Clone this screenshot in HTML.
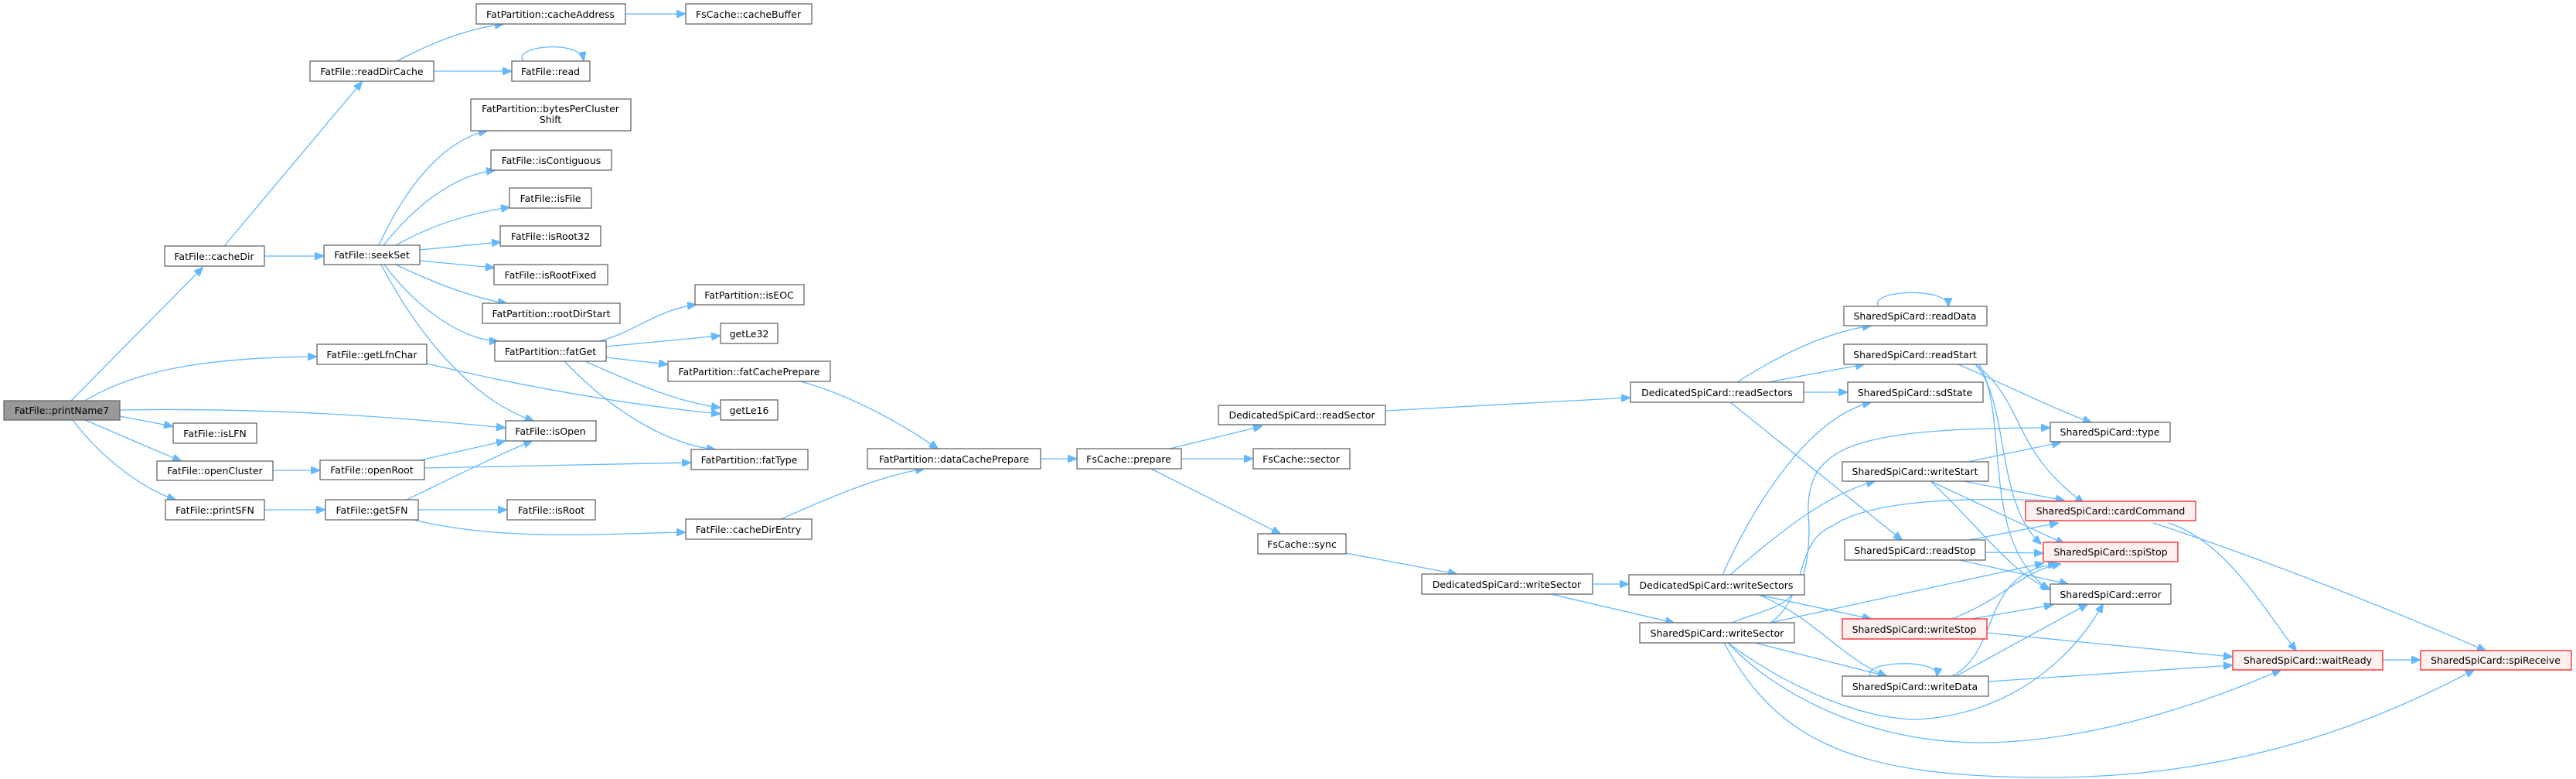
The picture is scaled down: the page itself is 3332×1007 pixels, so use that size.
<!DOCTYPE html>
<html><head><meta charset="utf-8"><style>
html,body{margin:0;padding:0;background:#fff;}
svg{display:block;}
text{font-family:"DejaVu Sans","Liberation Sans",sans-serif;font-size:12.5px;fill:#000;text-anchor:middle;}
.n{fill:#fff;stroke:#666;stroke-width:1.3;}
.r{fill:#fff0f0;stroke:#ff2020;stroke-width:1.3;}
.g{fill:#999;stroke:#666;stroke-width:1.3;}
path.e{fill:none;stroke:#63b8ff;stroke-width:1.3;marker-end:url(#a);}
</style></head><body>
<svg width="3332" height="1007" viewBox="0 0 3332 1007" xmlns="http://www.w3.org/2000/svg">
<defs><marker id="a" markerUnits="userSpaceOnUse" markerWidth="12" markerHeight="10" refX="11" refY="5" orient="auto"><path d="M0,0 L12,5 L0,10 Z" fill="#63b8ff" stroke="#63b8ff"/></marker></defs>
<g>
<path class="e" d="M92,518 L262,346"/>
<path class="e" d="M110,518 C180,475 280,462 409,461"/>
<path class="e" d="M155,530 C350,527 500,538 653,553"/>
<path class="e" d="M155,538 L223,551"/>
<path class="e" d="M110,543 L234,596"/>
<path class="e" d="M94,543 C130,590 180,630 227,646"/>
<path class="e" d="M290,318 L468,106"/>
<path class="e" d="M342,331 L418,331"/>
<path class="e" d="M513,79 C560,55 600,38 651,31"/>
<path class="e" d="M561,92 L661,92"/>
<path class="e" d="M677,79 C660,60 750,50 755,78"/>
<path class="e" d="M809,18 L886,18"/>
<path class="e" d="M490,317 C530,230 580,180 630,169"/>
<path class="e" d="M496,317 C550,250 600,225 640,220"/>
<path class="e" d="M512,317 C560,290 610,275 659,268"/>
<path class="e" d="M543,323 L647,313"/>
<path class="e" d="M543,337 L639,346"/>
<path class="e" d="M512,342 C560,365 610,385 655,392"/>
<path class="e" d="M497,342 C540,400 600,440 644,441"/>
<path class="e" d="M493,342 C550,450 620,520 690,544"/>
<path class="e" d="M775,441 C820,430 850,400 900,394"/>
<path class="e" d="M784,448 L931,434"/>
<path class="e" d="M784,462 L863,471"/>
<path class="e" d="M757,467 C830,500 880,520 931,527"/>
<path class="e" d="M730,467 C800,540 870,575 925,581"/>
<path class="e" d="M552,470 C700,505 830,525 931,535"/>
<path class="e" d="M1035,493 C1100,510 1170,550 1213,580"/>
<path class="e" d="M353,608 L413,608"/>
<path class="e" d="M543,595 L653,570"/>
<path class="e" d="M549,605 L893,598"/>
<path class="e" d="M342,659 L420,659"/>
<path class="e" d="M526,646 C580,620 640,590 688,570"/>
<path class="e" d="M541,659 L655,659"/>
<path class="e" d="M535,672 C650,700 780,690 886,688"/>
<path class="e" d="M1010,671 C1080,640 1140,615 1195,606"/>
<path class="e" d="M1346,593 L1392,593"/>
<path class="e" d="M1513,580 L1632,551"/>
<path class="e" d="M1528,593 L1620,593"/>
<path class="e" d="M1489,606 L1656,690"/>
<path class="e" d="M1792,531 L2108,514"/>
<path class="e" d="M1741,715 L1884,742"/>
<path class="e" d="M2060,755 L2106,755"/>
<path class="e" d="M2006,768 L2165,805"/>
<path class="e" d="M2247,494 C2300,460 2360,430 2420,421"/>
<path class="e" d="M2287,494 L2411,471"/>
<path class="e" d="M2333,507 L2389,507"/>
<path class="e" d="M2238,520 L2460,698"/>
<path class="e" d="M2430,396 C2415,375 2520,370 2520,396"/>
<path class="e" d="M2533,471 C2600,500 2660,530 2705,546"/>
<path class="e" d="M2555,471 C2620,520 2600,580 2695,650"/>
<path class="e" d="M2555,471 C2600,520 2580,650 2640,703"/>
<path class="e" d="M2560,471 C2600,540 2560,700 2650,762"/>
<path class="e" d="M2545,597 L2665,572"/>
<path class="e" d="M2540,622 L2670,647"/>
<path class="e" d="M2497,622 L2670,703"/>
<path class="e" d="M2497,622 C2560,680 2600,740 2652,762"/>
<path class="e" d="M2547,698 L2662,676"/>
<path class="e" d="M2568,714 L2642,715"/>
<path class="e" d="M2535,724 L2675,755"/>
<path class="e" d="M2228,743 C2270,650 2340,540 2420,520"/>
<path class="e" d="M2238,743 C2300,690 2360,640 2425,622"/>
<path class="e" d="M2275,769 L2420,800"/>
<path class="e" d="M2275,769 C2350,800 2380,850 2440,874"/>
<path class="e" d="M2240,805 C2300,780 2340,790 2340,680 C2330,580 2380,553 2651,553"/>
<path class="e" d="M2290,805 C2340,770 2320,700 2370,680 C2420,645 2550,642 2670,648"/>
<path class="e" d="M2290,805 L2643,728"/>
<path class="e" d="M2270,831 L2440,874"/>
<path class="e" d="M2235,831 C2300,880 2400,930 2480,930 C2580,925 2670,870 2720,781"/>
<path class="e" d="M2235,831 C2300,900 2420,960 2560,960 C2700,960 2850,910 2950,866"/>
<path class="e" d="M2230,831 C2300,960 2400,1005 2650,1005 C2900,1005 3080,930 3200,866"/>
<path class="e" d="M2525,800 C2600,770 2610,740 2665,729"/>
<path class="e" d="M2550,800 L2655,782"/>
<path class="e" d="M2570,818 L2887,849"/>
<path class="e" d="M2420,874 C2405,855 2510,850 2505,874"/>
<path class="e" d="M2525,874 C2590,840 2560,740 2660,729"/>
<path class="e" d="M2530,874 L2700,781"/>
<path class="e" d="M2572,881 L2887,860"/>
<path class="e" d="M2805,676 C2880,700 2930,790 2970,841"/>
<path class="e" d="M2785,676 C2950,730 3120,800 3215,841"/>
<path class="e" d="M3082,853 L3130,853"/>
</g>
<g>
<rect class="g" x="5" y="518" width="150" height="25"/><text x="80" y="535">FatFile::printName7</text>
<rect class="n" x="616" y="5" width="193" height="26"/><text x="712" y="23">FatPartition::cacheAddress</text>
<rect class="n" x="887" y="5" width="163" height="26"/><text x="968" y="23">FsCache::cacheBuffer</text>
<rect class="n" x="401" y="79" width="160" height="26"/><text x="481" y="97">FatFile::readDirCache</text>
<rect class="n" x="662" y="79" width="101" height="26"/><text x="712" y="97">FatFile::read</text>
<rect class="n" x="609" y="128" width="207" height="41"/><text x="712" y="145">FatPartition::bytesPerCluster</text><text x="712" y="159">Shift</text>
<rect class="n" x="635" y="194" width="156" height="26"/><text x="713" y="212">FatFile::isContiguous</text>
<rect class="n" x="659" y="243" width="106" height="26"/><text x="712" y="261">FatFile::isFile</text>
<rect class="n" x="647" y="292" width="130" height="26"/><text x="712" y="310">FatFile::isRoot32</text>
<rect class="n" x="639" y="342" width="147" height="26"/><text x="712" y="360">FatFile::isRootFixed</text>
<rect class="n" x="624" y="392" width="178" height="26"/><text x="713" y="410">FatPartition::rootDirStart</text>
<rect class="n" x="213" y="318" width="129" height="26"/><text x="277" y="336">FatFile::cacheDir</text>
<rect class="n" x="419" y="317" width="124" height="25"/><text x="481" y="334">FatFile::seekSet</text>
<rect class="n" x="899" y="368" width="141" height="26"/><text x="969" y="386">FatPartition::isEOC</text>
<rect class="n" x="932" y="418" width="74" height="26"/><text x="969" y="436">getLe32</text>
<rect class="n" x="640" y="441" width="144" height="26"/><text x="712" y="459">FatPartition::fatGet</text>
<rect class="n" x="864" y="467" width="210" height="26"/><text x="969" y="485">FatPartition::fatCachePrepare</text>
<rect class="n" x="410" y="445" width="142" height="26"/><text x="481" y="463">FatFile::getLfnChar</text>
<rect class="n" x="932" y="517" width="74" height="26"/><text x="969" y="535">getLe16</text>
<rect class="n" x="654" y="544" width="117" height="26"/><text x="712" y="562">FatFile::isOpen</text>
<rect class="n" x="224" y="547" width="108" height="26"/><text x="278" y="565">FatFile::isLFN</text>
<rect class="n" x="894" y="581" width="151" height="26"/><text x="969" y="599">FatPartition::fatType</text>
<rect class="n" x="203" y="596" width="150" height="25"/><text x="278" y="613">FatFile::openCluster</text>
<rect class="n" x="414" y="595" width="135" height="25"/><text x="481" y="612">FatFile::openRoot</text>
<rect class="n" x="214" y="646" width="128" height="26"/><text x="278" y="664">FatFile::printSFN</text>
<rect class="n" x="421" y="646" width="120" height="26"/><text x="481" y="664">FatFile::getSFN</text>
<rect class="n" x="656" y="646" width="114" height="26"/><text x="713" y="664">FatFile::isRoot</text>
<rect class="n" x="887" y="671" width="163" height="26"/><text x="968" y="689">FatFile::cacheDirEntry</text>
<rect class="n" x="1122" y="580" width="224" height="26"/><text x="1234" y="598">FatPartition::dataCachePrepare</text>
<rect class="n" x="1393" y="580" width="135" height="26"/><text x="1460" y="598">FsCache::prepare</text>
<rect class="n" x="1576" y="524" width="216" height="25"/><text x="1684" y="541">DedicatedSpiCard::readSector</text>
<rect class="n" x="1621" y="580" width="125" height="26"/><text x="1683" y="598">FsCache::sector</text>
<rect class="n" x="1627" y="690" width="114" height="26"/><text x="1684" y="708">FsCache::sync</text>
<rect class="n" x="1839" y="742" width="221" height="26"/><text x="1949" y="760">DedicatedSpiCard::writeSector</text>
<rect class="n" x="2109" y="494" width="224" height="26"/><text x="2221" y="512">DedicatedSpiCard::readSectors</text>
<rect class="n" x="2107" y="743" width="227" height="26"/><text x="2220" y="761">DedicatedSpiCard::writeSectors</text>
<rect class="n" x="2121" y="805" width="200" height="26"/><text x="2221" y="823">SharedSpiCard::writeSector</text>
<rect class="n" x="2385" y="396" width="185" height="25"/><text x="2477" y="413">SharedSpiCard::readData</text>
<rect class="n" x="2385" y="445" width="185" height="26"/><text x="2477" y="463">SharedSpiCard::readStart</text>
<rect class="n" x="2390" y="494" width="175" height="26"/><text x="2477" y="512">SharedSpiCard::sdState</text>
<rect class="n" x="2652" y="546" width="155" height="25"/><text x="2729" y="563">SharedSpiCard::type</text>
<rect class="n" x="2383" y="597" width="189" height="25"/><text x="2477" y="614">SharedSpiCard::writeStart</text>
<rect class="r" x="2620" y="648" width="220" height="25"/><text x="2730" y="665">SharedSpiCard::cardCommand</text>
<rect class="n" x="2386" y="698" width="182" height="26"/><text x="2477" y="716">SharedSpiCard::readStop</text>
<rect class="r" x="2643" y="701" width="174" height="25"/><text x="2730" y="718">SharedSpiCard::spiStop</text>
<rect class="n" x="2652" y="755" width="156" height="26"/><text x="2730" y="773">SharedSpiCard::error</text>
<rect class="r" x="2383" y="800" width="187" height="26"/><text x="2476" y="818">SharedSpiCard::writeStop</text>
<rect class="r" x="2888" y="841" width="194" height="25"/><text x="2985" y="858">SharedSpiCard::waitReady</text>
<rect class="r" x="3131" y="841" width="195" height="25"/><text x="3228" y="858">SharedSpiCard::spiReceive</text>
<rect class="n" x="2383" y="874" width="189" height="26"/><text x="2477" y="892">SharedSpiCard::writeData</text>
</g>
</svg>
</body></html>
